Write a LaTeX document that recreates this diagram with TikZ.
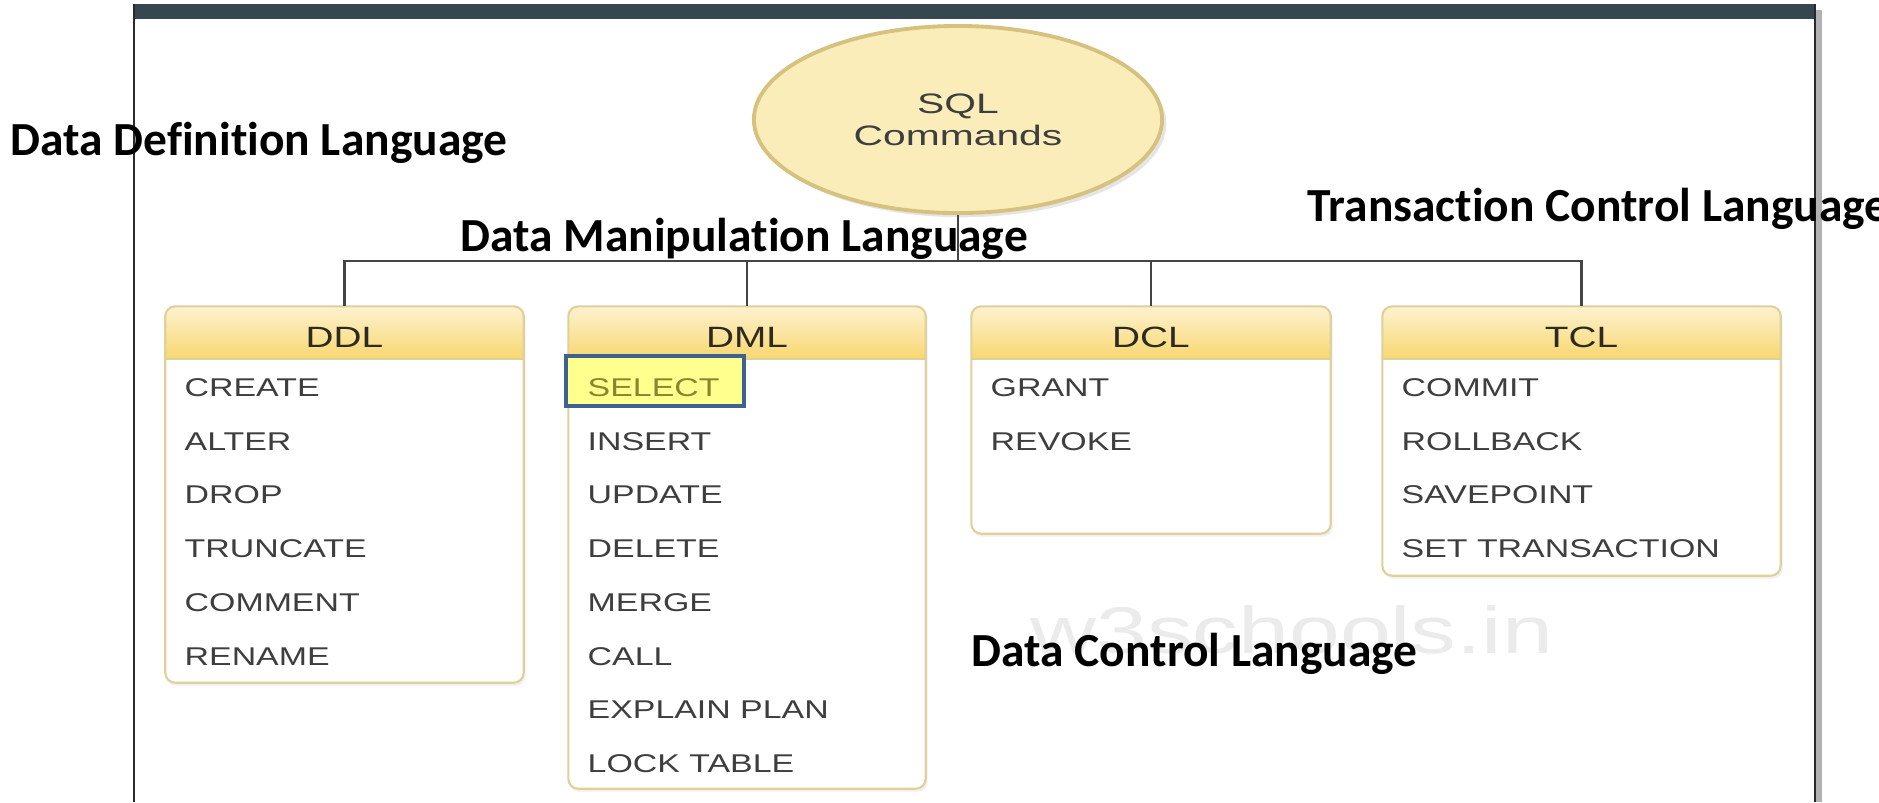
\documentclass[tikz,border=0pt]{standalone}
\usepackage{fontspec}
\setmainfont{Liberation Sans}
\newfontfamily\labfont{Carlito}[Ligatures=CommonOff]
\newfontfamily\dgfont{Liberation Sans}[FakeStretch=1.32]
\newfontfamily\elfont{Liberation Sans}[FakeStretch=1.45]
\newfontfamily\wmfont{Liberation Sans}[FakeStretch=1.38]
\usetikzlibrary{shapes.geometric,calc,fit,shadows}
\definecolor{barcol}{HTML}{37474F}
\definecolor{ellfill}{HTML}{FAEDBA}
\definecolor{elldraw}{HTML}{D6C27E}
\definecolor{hdtop}{HTML}{FDF2D0}
\definecolor{hdbot}{HTML}{F8D76F}
\definecolor{boxdraw}{HTML}{E0D09A}
\definecolor{itemcol}{HTML}{3E3E3E}
\definecolor{hdtext}{HTML}{2E2A1E}
\definecolor{selblue}{HTML}{3E6092}
\definecolor{selfill}{HTML}{FFFF8E}
\definecolor{seltext}{HTML}{86862C}
\definecolor{wmcol}{HTML}{EBEBEB}
\definecolor{conncol}{HTML}{444444}
\definecolor{framecol}{HTML}{2A2A2A}
\tikzset{
  lab/.style={font=\labfont\bfseries\fontsize{13.5}{16}\selectfont, text=black, inner sep=0, anchor=base west},
  itemtext/.style={font=\dgfont\fontsize{7.3}{8}\selectfont, text=itemcol, inner sep=0, anchor=base west},
  hdtxt/.style={font=\dgfont\fontsize{8.35}{9}\selectfont, text=hdtext, inner sep=0, anchor=base},
  conn/.style={draw=conncol, line width=0.7pt},
  boxborder/.style={draw=boxdraw, line width=0.6pt, rounded corners=0.1cm},
}
\newcommand\cmdbox[5]{%
  \node[inner sep=0, fit={(#2,307) (#3,#4)}] (#1) {};
  \fill[black, opacity=0.06, rounded corners=0.1cm] ($(#1.north west)+(1,2)$) rectangle ($(#1.south east)+(2,3)$);
  \begin{scope}
    \clip[rounded corners=0.1cm] (#1.north west) rectangle (#1.south east);
    \fill[white] (#1.north west) rectangle (#1.south east);
    \shade[top color=hdtop, bottom color=hdbot] (#1.north west) rectangle ($(#1.north east)+(0,53)$);
  \end{scope}
  \draw[draw=boxdraw, line width=0.6pt] ($(#1.north west)+(0,53)$) -- ($(#1.north east)+(0,53)$);
  \draw[boxborder] (#1.north west) rectangle (#1.south east);
  \node[hdtxt] (#1-title) at ($(#1.north)+(0,41.5)$) {#5};
}
\begin{document}
\begin{tikzpicture}[x=0.01cm,y=-0.01cm]
\useasboundingbox (0,0) rectangle (1879,802);
\fill[white] (0,0) rectangle (1879,802);
% frame
\fill[black!30] (1816,10) rectangle (1822,802);
\fill[barcol] (134,4) rectangle (1816,19);
\draw[framecol, line width=0.6pt] (134,4) -- (134,802);
\draw[framecol, line width=0.8pt] (1815,4) -- (1815,802);
% watermark
\node[font=\wmfont\fontsize{18.8}{20}\selectfont, text=wmcol, inner sep=0, anchor=base west] (wm) at (1030,653) {w3schools.in};
% root
\node[ellipse, draw=elldraw, line width=1.1pt, fill=ellfill, minimum width=4.08cm, minimum height=1.87cm, inner sep=0, align=center,
      font=\elfont\fontsize{8}{9.1}\selectfont, text=itemcol,
      drop shadow={shadow xshift=1.2pt, shadow yshift=-1.2pt, opacity=0.2}] (sql) at (958,119.5) {SQL\\Commands};
% boxes
\cmdbox{ddl}{166}{523}{682}{DDL}
\cmdbox{dml}{569}{925}{788}{DML}
\cmdbox{dcl}{972}{1330}{533}{DCL}
\cmdbox{tcl}{1383}{1780}{575}{TCL}
% connectors
\coordinate (bus) at (957,261);
\draw[conn] (sql.south) -- (sql.south |- bus);
\draw[conn] (ddl.north) |- (tcl.north |- bus) -- (tcl.north);
\draw[conn] (dml.north) -- (dml.north |- bus);
\draw[conn] (dcl.north) -- (dcl.north |- bus);
% DDL items
\node[itemtext] (ddl-1) at (184,396) {CREATE};
\node[itemtext] (ddl-2) at (184,450) {ALTER};
\node[itemtext] (ddl-3) at (184,503) {DROP};
\node[itemtext] (ddl-4) at (184,557) {TRUNCATE};
\node[itemtext] (ddl-5) at (184,611) {COMMENT};
\node[itemtext] (ddl-6) at (184,665) {RENAME};
% DML items
\node[draw=selblue, line width=1.1pt, fill=selfill, inner sep=0, fit={(566,356) (744,406)}] (selbox) {};
\node[itemtext, text=seltext] (dml-1) at (587,396) {SELECT};
\node[itemtext] (dml-2) at (587,450) {INSERT};
\node[itemtext] (dml-3) at (587,503) {UPDATE};
\node[itemtext] (dml-4) at (587,557) {DELETE};
\node[itemtext] (dml-5) at (587,611) {MERGE};
\node[itemtext] (dml-6) at (587,665) {CALL};
\node[itemtext] (dml-7) at (587,718) {EXPLAIN PLAN};
\node[itemtext] (dml-8) at (587,772) {LOCK TABLE};
% DCL items
\node[itemtext] (dcl-1) at (990,396) {GRANT};
\node[itemtext] (dcl-2) at (990,450) {REVOKE};
% TCL items
\node[itemtext] (tcl-1) at (1401,396) {COMMIT};
\node[itemtext] (tcl-2) at (1401,450) {ROLLBACK};
\node[itemtext] (tcl-3) at (1401,503) {SAVEPOINT};
\node[itemtext] (tcl-4) at (1401,557) {SET TRANSACTION};
% labels
\node[lab] (ddlL) at (10,155) {Data Definition Language};
\node[lab] (dmlL) at (460,251) {Data Manipulation Language};
\node[lab] (tclL) at (1307,221) {Transaction Control Language};
\node[lab] (dclL) at (971,666) {Data Control Language};
\end{tikzpicture}
\end{document}
